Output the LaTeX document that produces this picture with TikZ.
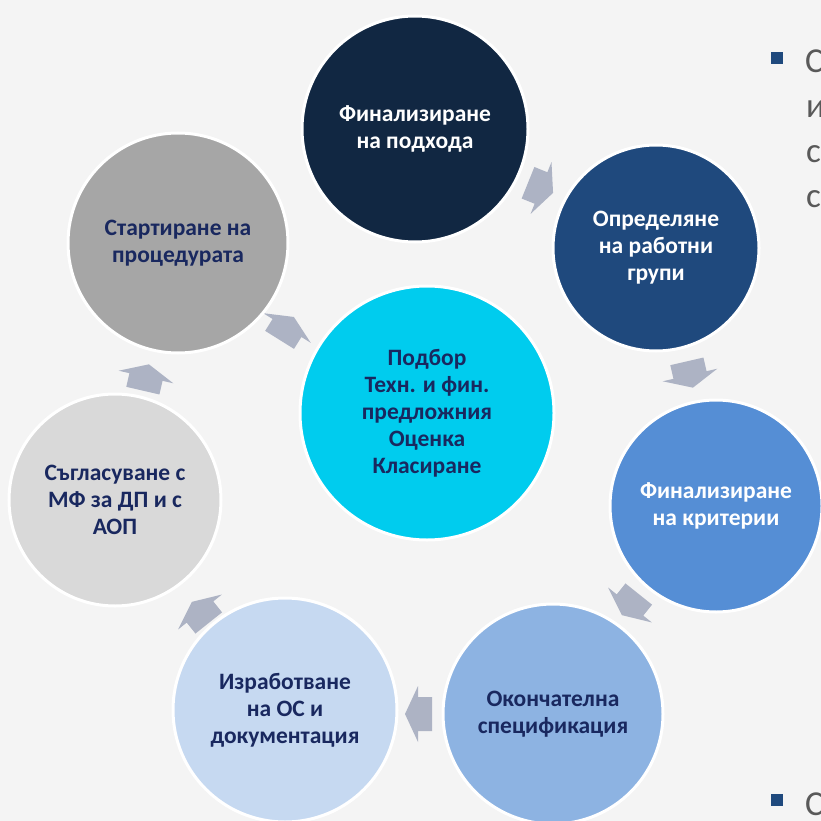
\documentclass[tikz,border=0pt]{standalone}
\usepackage{fontspec}
\setmainfont{Carlito}
\definecolor{bgc}{HTML}{F4F4F4}
\definecolor{cA}{RGB}{17,39,66}
\definecolor{cB}{RGB}{31,73,125}
\definecolor{cC}{RGB}{85,142,213}
\definecolor{cD}{RGB}{141,179,226}
\definecolor{cE}{RGB}{198,217,241}
\definecolor{cF}{HTML}{D9D9D9}
\definecolor{cG}{HTML}{A6A6A6}
\definecolor{cH}{RGB}{0,204,238}
\definecolor{navytext}{RGB}{25,40,95}
\definecolor{arrowgrey}{RGB}{173,179,196}
\definecolor{bulletblue}{RGB}{31,73,125}
\definecolor{sidegrey}{HTML}{595959}
\newcommand\cyclearrow[4]{%
  \begin{scope}[shift={(#2,#3)},rotate=#4]
    \fill[arrowgrey] (-14,-17) -- (0,-17) -- (0,-28) -- (13,0) -- (0,28) -- (0,17) -- (-14,17) -- cycle;
    \coordinate (#1) at (0,0);
  \end{scope}}
\tikzset{
  stage/.style={circle, draw=white, line width=3pt, align=center, inner sep=0pt,
    font=\fontsize{23.5}{27}\selectfont\bfseries},
  lighttext/.style={text=white},
  darktext/.style={text=navytext},
  sidetext/.style={anchor=base west, text=sidegrey, font=\fontsize{35}{45}\selectfont, inner sep=0pt},
  bullet/.style={fill=bulletblue}
}
\begin{document}
\begin{tikzpicture}[x=1pt,y=-1pt]
\clip (0,0) rectangle (821,821);
\fill[bgc] (0,0) rectangle (821,821);
% arrows
\cyclearrow{a1}{541}{188}{-22}
\cyclearrow{a2}{690}{375}{-77}
\cyclearrow{a3}{630}{605}{-128.6}
\cyclearrow{a4}{418}{714}{180}
\cyclearrow{a5}{200}{612}{128.6}
\cyclearrow{a6}{146}{377}{77}
\cyclearrow{a7}{287}{328}{58}
% circles
\node[stage, lighttext, fill=cA, minimum size=226pt] (c1) at (415,129) {Финализиране\\на подхода};
\node[stage, lighttext, fill=cB, minimum size=206pt] (c2) at (656,248) {Определяне\\на работни\\групи};
\node[stage, lighttext, fill=cC, minimum size=212pt] (c3) at (716,506) {Финализиране\\на критерии};
\node[stage, darktext, fill=cD, minimum size=220pt] (c4) at (553,714) {Окончателна\\спецификация};
\node[stage, darktext, fill=cE, minimum size=224pt] (c5) at (285,710) {Изработване\\на ОС и\\документация};
\node[stage, darktext, fill=cF, minimum size=212pt] (c6) at (115,500) {Съгласуване с\\МФ за ДП и с\\АОП};
\node[stage, darktext, fill=cG, minimum size=220pt] (c7) at (178,243) {Стартиране на\\процедурата};
\node[stage, darktext, fill=cH, minimum size=254pt] (c0) at (427,413) {Подбор\\Техн. и фин.\\предложния\\Оценка\\Класиране};
% side text
\fill[bullet] (771,52) rectangle (783,64);
\node[sidetext] (s1) at (805,73) {С};
\node[sidetext] (s2) at (806,118) {и};
\node[sidetext] (s3) at (806,163) {с};
\node[sidetext] (s4) at (806,207) {с};
\fill[bullet] (771,794) rectangle (783,806);
\node[sidetext] (s5) at (805,815) {С};
\end{tikzpicture}
\end{document}
